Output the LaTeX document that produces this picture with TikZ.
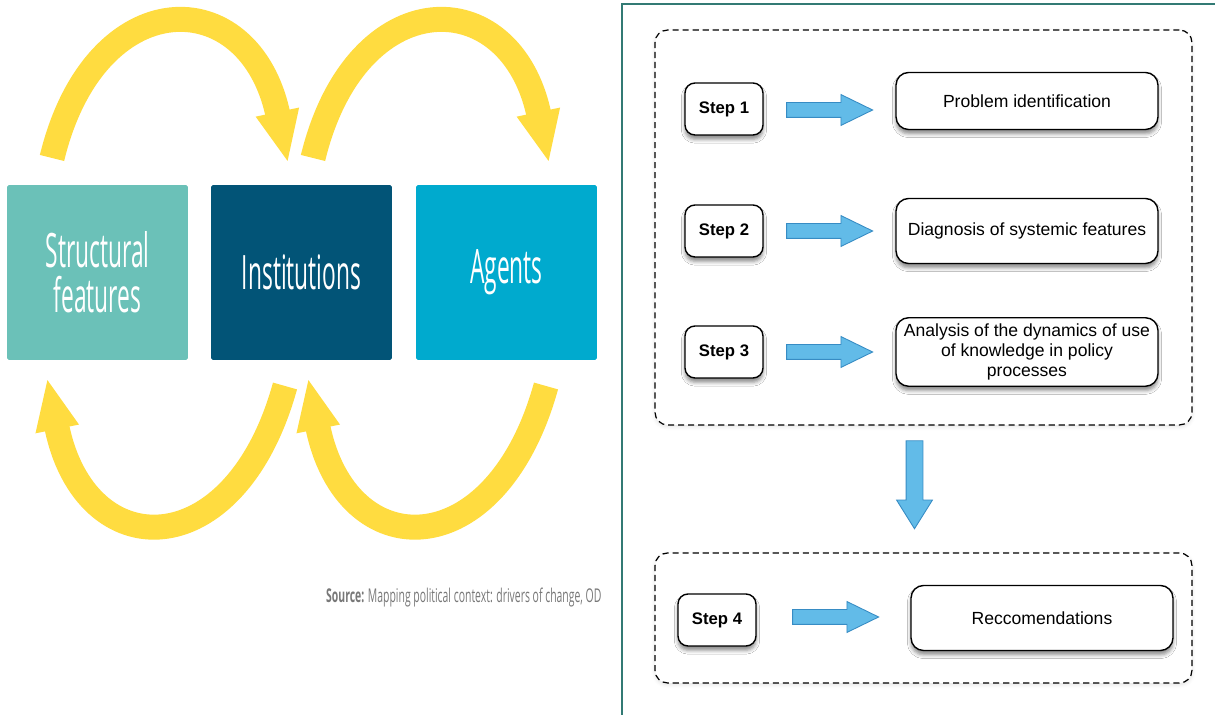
\documentclass[tikz,border=0pt]{standalone}
\usepackage{fontspec}
\setmainfont{Liberation Sans}
\newfontfamily\condfont[FakeStretch=0.48]{Open Sans}
\newfontfamily\srcfont[FakeStretch=0.55]{Open Sans}
\usetikzlibrary{arrows.meta,shapes.arrows,shadows.blur}

\definecolor{sfteal}{RGB}{107,193,184}
\definecolor{instblue}{RGB}{2,84,119}
\definecolor{agentblue}{RGB}{0,170,206}
\definecolor{loopyellow}{RGB}{255,220,64}
\definecolor{framegreen}{RGB}{50,122,116}
\definecolor{arrowfill}{RGB}{98,187,232}
\definecolor{arrowline}{RGB}{55,140,196}
\definecolor{srcgray}{RGB}{120,120,120}

\tikzset{
  factor/.style={minimum width=3.62cm, minimum height=3.5cm, rounded corners=1pt,
    inner sep=0pt, text=white, align=center, font=\condfont\fontsize{27}{25.5}\selectfont},
  cyclearrow/.style={draw=loopyellow, line width=0.5cm,
    -{Triangle[width=0.8cm,length=1.04cm]}},
  groupbox/.style={draw, fill=white, dash pattern=on 3.5pt off 2.2pt, line width=0.7pt,
    rounded corners=0.25cm, inner sep=0pt,
    blur shadow={shadow xshift=0pt, shadow yshift=-1pt, shadow opacity=12}},
  stepbox/.style={draw, fill=white, line width=0.8pt, rounded corners=0.2cm,
    minimum width=1.56cm, minimum height=1.04cm,
    font=\bfseries\fontsize{9.5}{11}\selectfont,
    blur shadow={shadow xshift=0pt, shadow yshift=-2.5pt, shadow opacity=45}},
  taskbox/.style={draw, fill=white, line width=0.8pt, rounded corners=0.25cm,
    minimum width=5.24cm, minimum height=1.3cm, align=center,
    font=\fontsize{10}{11.5}\selectfont,
    blur shadow={shadow xshift=0pt, shadow yshift=-2.5pt, shadow opacity=45}},
  blockarrow/.style={single arrow, draw=arrowline, fill=arrowfill, line width=0.5pt,
    inner sep=0.14cm, minimum height=1.72cm, minimum width=0.6cm,
    single arrow head extend=0.16cm, single arrow tip angle=52},
}

\begin{document}
\begin{tikzpicture}[x=0.02cm, y=-0.02cm]
  \useasboundingbox (0,0) rectangle (1215,715);

  % left: drivers of change
  \node[factor, fill=sfteal] (sf) at (97.5,272.5) {Structural\\features};
  \node[factor, fill=instblue] (inst) at (301.5,272.5) {Institutions};
  \node[factor, fill=agentblue] (agents) at (506.5,272.5) {Agents};

  \coordinate (c1s) at (52,158);
  \coordinate (c1e) at (288,163);
  \coordinate (c2s) at (313,158);
  \coordinate (c2e) at (549,163);
  \coordinate (c3s) at (285,386);
  \coordinate (c3e) at (47,378);
  \coordinate (c4s) at (546,386);
  \coordinate (c4e) at (308,378);
  \draw[cyclearrow] (c1s) .. controls (95,-19) and (250,-19) .. (c1e);
  \draw[cyclearrow] (c2s) .. controls (356,-19) and (511,-19) .. (c2e);
  \draw[cyclearrow] (c3s) .. controls (235,567) and (85,567) .. (c3e);
  \draw[cyclearrow] (c4s) .. controls (496,567) and (346,567) .. (c4e);

  \node[anchor=west, text=srcgray, font=\srcfont\fontsize{10.8}{12}\selectfont] (src)
    at (320,598) {\textbf{Source:} Mapping political context: drivers of change, OD};

  % right: steps
  \draw[framegreen, line width=1.2pt] (622,715) -- (622,4) -- (1215,4);

  \node[groupbox, minimum width=10.74cm, minimum height=7.9cm] (grp1) at (923.5,227.5) {};
  \node[groupbox, minimum width=10.74cm, minimum height=2.6cm] (grp2) at (923.5,618) {};

  \node[stepbox] (s1) at (724,109) {Step 1};
  \node[stepbox] (s2) at (724,231) {Step 2};
  \node[stepbox] (s3) at (724,352) {Step 3};
  \node[stepbox] (s4) at (717,620) {Step 4};

  \node[taskbox, minimum height=1.14cm] (t1) at (1027,101) {Problem identification};
  \node[taskbox] (t2) at (1027,231) {Diagnosis of systemic features};
  \node[taskbox] (t3) at (1027,352) {Analysis of the dynamics of use\\of knowledge in policy\\processes};
  \node[taskbox] (t4) at (1042,618) {Reccomendations};

  \node[blockarrow] (a1) at (822,110) {};
  \node[blockarrow] (a2) at (822,231) {};
  \node[blockarrow] (a3) at (822,352) {};
  \node[blockarrow] (a4) at (828,617) {};
  \node[blockarrow, shape border rotate=270, inner sep=0.16cm, minimum height=1.76cm,
    minimum width=0.7cm, single arrow head extend=0.19cm, single arrow tip angle=64]
    (down) at (914.5,478) {};
\end{tikzpicture}
\end{document}
